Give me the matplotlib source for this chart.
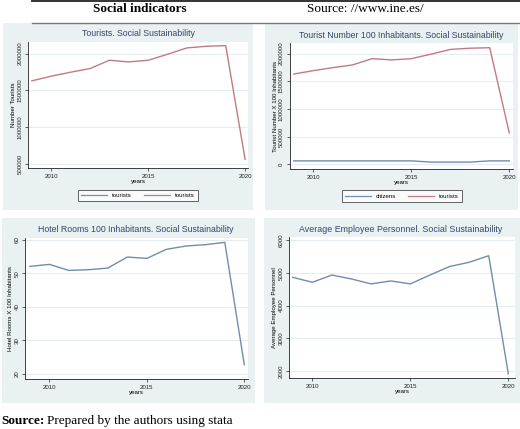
import matplotlib
matplotlib.use("Agg")
import matplotlib.pyplot as plt
from matplotlib.patches import Rectangle
from matplotlib.lines import Line2D

years = [2009, 2010, 2011, 2012, 2013, 2014, 2015, 2016, 2017, 2018, 2019, 2020]
tourists = [1631000, 1694000, 1748000, 1797000, 1910000, 1887000, 1910000,
            1991000, 2077000, 2099000, 2108000, 568000]
citizens = [62000, 62000, 62000, 62000, 62000, 62000, 62000,
            40000, 40000, 40000, 62000, 62000]
hotel_rooms = [52.1, 52.7, 50.9, 51.1, 51.6, 54.9, 54.5, 57.2, 58.2, 58.6, 59.3, 22.7]
employees = [4860, 4710, 4930, 4810, 4660, 4750, 4660, 4930, 5190, 5320, 5520, 1910]

W, H = 520, 429
fig = plt.figure(figsize=(W / 100, H / 100), dpi=100)
fig.patch.set_facecolor("white")

BG = "#eaf1f3"
BLUE = "#6f8db0"
RED = "#c27a82"
TITLE_C = "#34466a"
SANS = "Liberation Sans"
SERIF = "Liberation Serif"


def fx(x):
    return x / W


def fy(y):
    return 1 - y / H


def panel(x0, y0, x1, y1):
    fig.add_artist(Rectangle((fx(x0), fy(y1)), fx(x1 - x0), (y1 - y0) / H,
                             transform=fig.transFigure, facecolor=BG,
                             edgecolor="none", zorder=0))


def make_ax(x0, y0, x1, y1):
    ax = fig.add_axes([fx(x0), fy(y1), fx(x1 - x0), (y1 - y0) / H])
    ax.set_facecolor("white")
    for s in ["top", "right"]:
        ax.spines[s].set_visible(False)
    for s in ["left", "bottom"]:
        ax.spines[s].set_linewidth(0.6)
        ax.spines[s].set_color("#222222")
    ax.tick_params(axis="both", labelsize=4.4, length=2.5, width=0.5, pad=1.5,
                   colors="#222222")
    ax.grid(axis="y", color="#e4edf0", lw=0.8)
    ax.set_axisbelow(True)
    ax.set_xticks([2010, 2015, 2020])
    ax.set_xlabel("years", fontsize=4.4, labelpad=0, family=SANS)
    return ax


def finish_y(ax):
    for lab in ax.get_yticklabels():
        lab.set_rotation(90)
        lab.set_va("center")
        lab.set_family(SANS)
    for lab in ax.get_xticklabels():
        lab.set_family(SANS)


def legend(handles, labels, cx, cy):
    lg = fig.legend(handles, labels, loc="center",
                    bbox_to_anchor=(fx(cx), fy(cy)), ncol=2,
                    frameon=True, fancybox=False, edgecolor="#222222",
                    handlelength=4.2, columnspacing=2.0, borderpad=0.5,
                    handletextpad=0.8,
                    prop={"family": SANS, "size": 4.4})
    lg.get_frame().set_linewidth(0.6)


# header
fig.add_artist(Line2D([fx(32), 1], [fy(1), fy(1)], color="#333333", lw=1.4,
                      transform=fig.transFigure))
fig.add_artist(Line2D([fx(32), 1], [fy(22.5), fy(22.5)], color="#777777", lw=1.0,
                      transform=fig.transFigure))
fig.text(fx(139.5), fy(9.5), "Social indicators", ha="center", va="center",
         fontsize=9.5, fontweight="bold", family=SERIF)
fig.text(fx(307), fy(9.5), "Source: //www.ine.es/", ha="left", va="center",
         fontsize=9.5, family=SERIF)

# panels
panel(3, 23, 253, 210)
panel(265, 23, 518, 210)
panel(2, 218, 255, 403)
panel(264, 218, 520, 403)

# Panel 1
ax1 = make_ax(28, 42, 248, 168)
ax1.plot(years, tourists, color=RED, lw=1.0)
ax1.set_xlim(2008.8, 2020.15)
ax1.set_ylim(450000, 2157000)
ax1.set_yticks([500000, 1000000, 1500000, 2000000])
ax1.set_yticklabels(["500000", "1000000", "1500000", "2000000"])
ax1.set_ylabel("Number Tourists", fontsize=4.4, labelpad=1, family=SANS)
finish_y(ax1)
fig.text(fx(138), fy(34), "Tourists. Social Sustainability", ha="center",
         va="center", fontsize=6.3, color=TITLE_C, family=SANS)
legend([Line2D([], [], color=BLUE, lw=0.9), Line2D([], [], color=RED, lw=0.9)],
       ["tourists", "tourists"], 138, 195.5)

# Panel 2
ax2 = make_ax(289.5, 43, 513, 169)
ax2.plot(years, citizens, color=BLUE, lw=1.0)
ax2.plot(years, tourists, color=RED, lw=1.0)
ax2.set_xlim(2008.78, 2020.19)
ax2.set_ylim(-85000, 2193000)
ax2.set_yticks([0, 500000, 1000000, 1500000, 2000000])
ax2.set_yticklabels(["0", "500000", "1000000", "1500000", "2000000"])
ax2.set_ylabel("Tourist Number X 100 Inhabitants", fontsize=4.4, labelpad=1,
               family=SANS)
finish_y(ax2)
fig.text(fx(401), fy(36), "Tourist Number 100 Inhabitants. Social Sustainability",
         ha="center", va="center", fontsize=6.3, color=TITLE_C, family=SANS)
legend([Line2D([], [], color=BLUE, lw=0.9), Line2D([], [], color=RED, lw=0.9)],
       ["citizens", "tourists"], 402, 196)

# Panel 3
ax3 = make_ax(25, 238, 248, 379)
ax3.plot(years, hotel_rooms, color=BLUE, lw=1.0)
ax3.set_xlim(2008.75, 2020.19)
ax3.set_ylim(18.4, 60.6)
ax3.set_yticks([20, 30, 40, 50, 60])
ax3.set_ylabel("Hotel Rooms X 100 Inhabitants", fontsize=4.4, labelpad=1,
               family=SANS)
finish_y(ax3)
fig.text(fx(136), fy(229.5), "Hotel Rooms 100 Inhabitants. Social Sustainability",
         ha="center", va="center", fontsize=6.3, color=TITLE_C, family=SANS)

# Panel 4
ax4 = make_ax(289, 237, 515, 378)
ax4.plot(years, employees, color=BLUE, lw=1.0)
ax4.set_xlim(2008.81, 2020.34)
ax4.set_ylim(1786, 6092)
ax4.set_yticks([2000, 3000, 4000, 5000, 6000])
ax4.set_ylabel("Average Employee Personnel", fontsize=4.4, labelpad=1,
               family=SANS)
finish_y(ax4)
fig.text(fx(401), fy(229.5), "Average Employee Personnel. Social Sustainability",
         ha="center", va="center", fontsize=6.4, color=TITLE_C, family=SANS)

# footer
t1 = fig.text(fx(1), fy(421), "Source:", ha="left", va="center",
              fontsize=9.5, fontweight="bold", family=SERIF)
renderer = fig.canvas.get_renderer()
bb = t1.get_window_extent(renderer=renderer)
fig.text(bb.x1 / fig.bbox.width + fx(3), fy(421), "Prepared by the authors using stata",
         ha="left", va="center", fontsize=9.5, family=SERIF)
fig.savefig("out.png", dpi=100)
